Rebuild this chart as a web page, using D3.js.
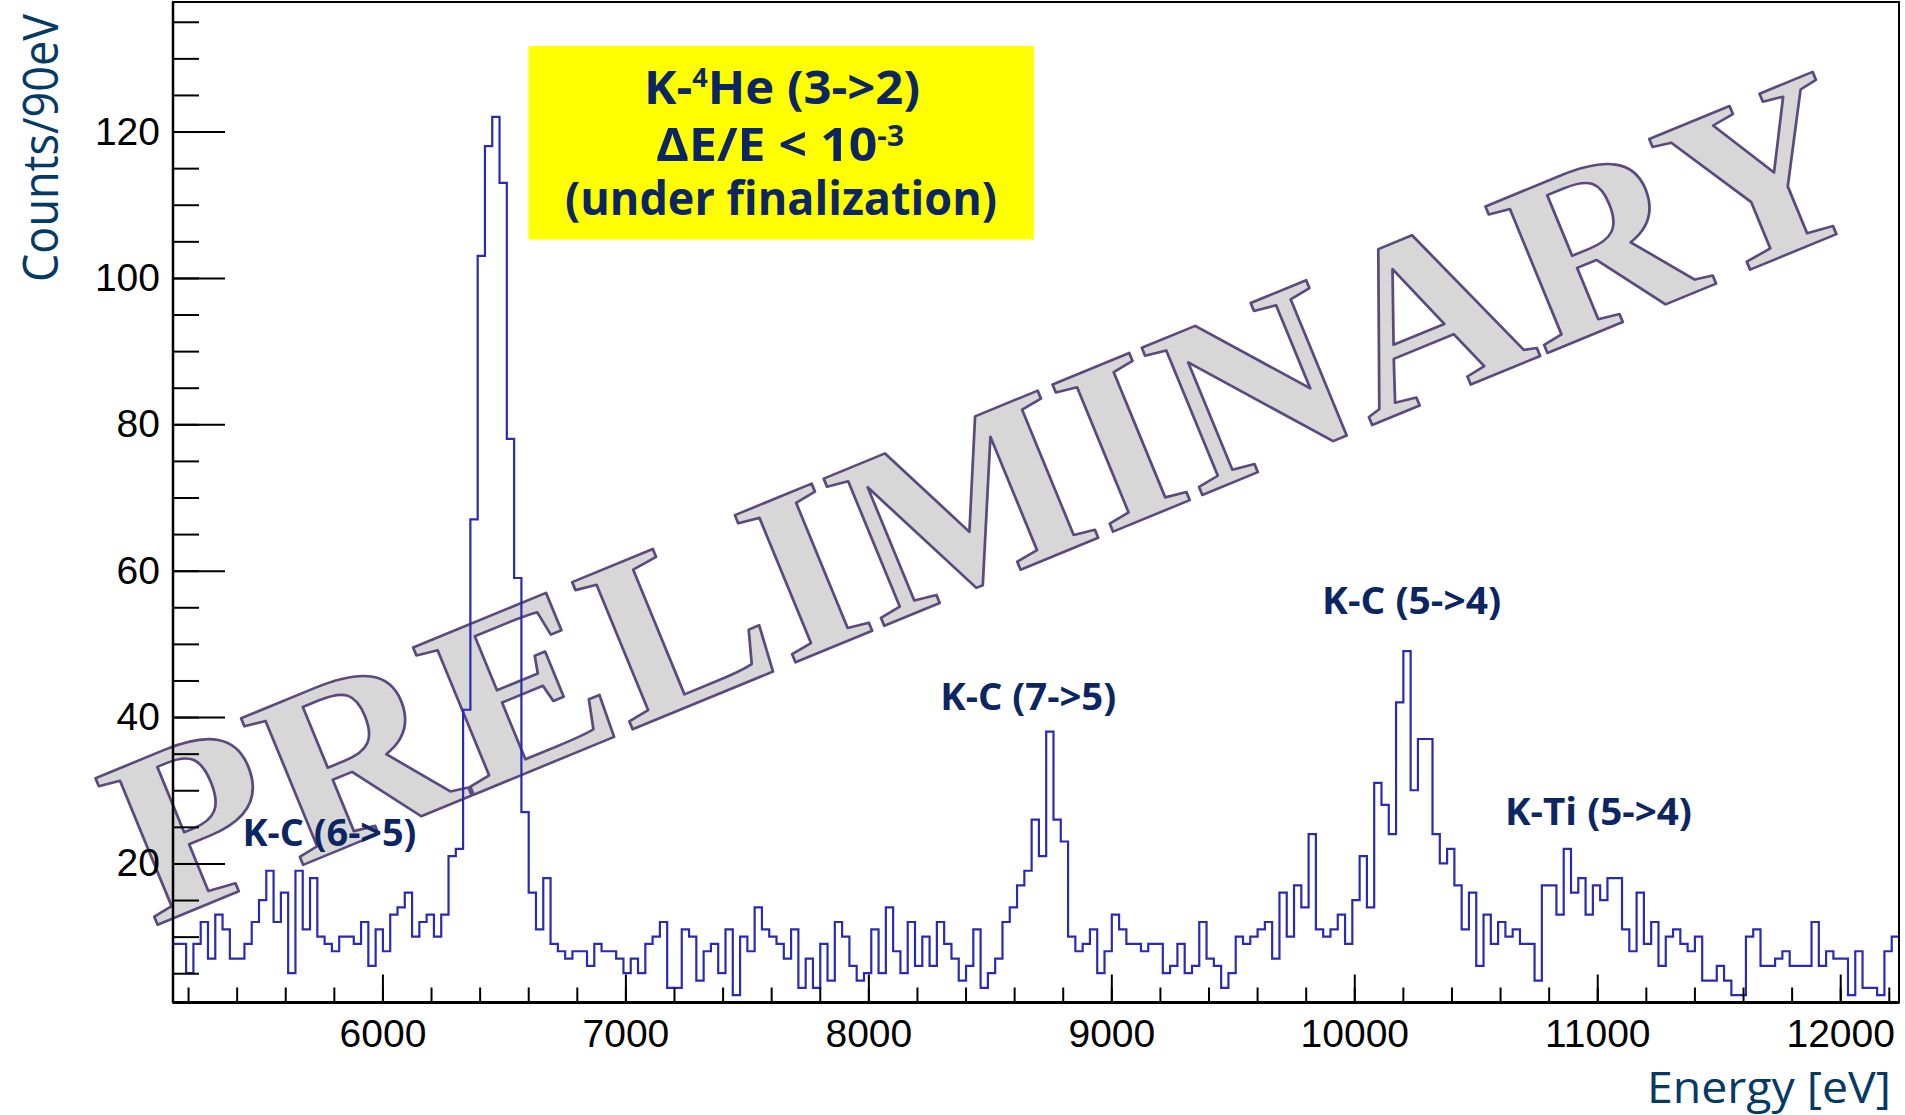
<!DOCTYPE html>
<html><head><meta charset="utf-8">
<script src="https://cdn.jsdelivr.net/npm/d3@7"></script>
<style>html,body{margin:0;padding:0;background:#fff;overflow:hidden}svg{display:block}</style>
</head><body>
<svg id="chart" width="1905" height="1115"></svg>
<script>
// ---------------- data ----------------
const binStart = 5132;   // eV, low edge of first bin
const binWidth = 30;     // eV
const counts = [
  9,9,5,9,12,7,13,11,7,7,
  9,12,15,19,12,16,5,19,11,18,
  10,9,8,10,10,9,12,6,11,8,
  13,14,16,10,12,13,10,13,21,22,
  41,67,103,118,122,113,78,59,27,16,
  11,18,9,8,7,8,8,6,9,8,
  8,7,5,7,5,9,10,12,3,3,
  11,10,4,8,9,5,11,2,10,8,
  14,11,10,9,7,11,3,7,3,9,
  4,12,10,6,4,5,11,5,14,8,
  5,12,6,10,6,12,9,7,4,6,
  11,3,5,7,12,14,17,19,26,21,
  38,26,23,10,8,9,11,5,8,13,
  11,9,9,8,9,9,5,6,9,5,
  6,12,7,6,3,5,10,9,10,11,
  12,7,16,10,17,14,24,11,10,11,
  13,9,15,21,14,31,28,24,42,49,
  30,37,37,24,20,22,17,11,16,6,
  13,9,12,10,11,9,9,4,17,17,
  13,22,16,18,13,17,15,18,18,11,
  8,16,9,12,6,10,11,9,8,10,
  4,4,6,4,2,2,10,11,6,6,
  7,8,6,6,6,12,6,8,7,7,
  2,8,3,3,2,8,10
];
const xDomain = [5138, 12242];
const yDomain = [1, 137.7];
const xTickValues = [6000, 7000, 8000, 9000, 10000, 11000, 12000];
const yTickValues = [20, 40, 60, 80, 100, 120];
const xMinorTicks = d3.range(5200, 12242, 200);
const yMinorTicks = d3.range(5, 137, 5);
const peakLabels = ["K-C (6->5)", "K-C (7->5)", "K-C (5->4)", "K-Ti (5->4)"];
const peakLabelEnergy = [5782, 8658, 10236, 11005];
const peakLabelCount = [22.4, 41.0, 54.1, 25.3];
const xTitle = "Energy [eV]";
const yTitle = "Counts/90eV";

// ---------------- layout ----------------
const L = 173, R = 1899, T = 2, B = 1002.5;
const svg = d3.select("#chart");
svg.append("rect").attr("width",1905).attr("height",1115).attr("fill","#fff");

const x = d3.scaleLinear().domain(xDomain).range([L, R]);
const y = d3.scaleLinear().domain(yDomain).range([B, T]);

svg.append("defs").append("clipPath").attr("id","plotclip")
  .append("rect").attr("x",L).attr("y",T).attr("width",R-L).attr("height",B-T);

// watermark
svg.append("text")
  .attr("transform","translate(152,927) rotate(-22.36)")
  .attr("font-family","'Liberation Serif','DejaVu Serif',serif")
  .attr("font-weight","bold")
  .attr("font-size",243)
  .attr("textLength",1866)
  .attr("lengthAdjust","spacingAndGlyphs")
  .attr("fill","#d7d7d7")
  .attr("stroke","#5b4a7e")
  .attr("stroke-width",2.6)
  .attr("stroke-linejoin","round")
  .text("PRELIMINARY");

// histogram
const pts = counts.map((c,i)=>[binStart + i*binWidth, c]);
pts.push([binStart + counts.length*binWidth, counts[counts.length-1]]);
const line = d3.line().x(d=>x(d[0])).y(d=>y(d[1])).curve(d3.curveStepAfter);
svg.append("path").attr("d", line(pts))
  .attr("clip-path","url(#plotclip)")
  .attr("fill","none").attr("stroke","#2a2ab2").attr("stroke-width",2.2);

// axes
function styleAxis(g){
  g.select(".domain").remove();
  g.selectAll(".tick line").attr("stroke","#000").attr("stroke-width",2);
  g.selectAll(".tick text").attr("fill","#000")
    .attr("font-family","'Liberation Sans',Arial,sans-serif").attr("font-size",39);
}
svg.append("g").attr("transform",`translate(0,${B})`)
  .call(d3.axisBottom(x).tickValues(xMinorTicks).tickSize(-15).tickFormat(""))
  .call(styleAxis);
svg.append("g").attr("transform",`translate(0,${B})`)
  .call(d3.axisBottom(x).tickValues(xTickValues).tickSize(-28).tickSizeOuter(0).tickPadding(17).tickFormat(d3.format("d")))
  .call(styleAxis);
svg.append("g").attr("transform",`translate(${L},0)`)
  .call(d3.axisLeft(y).tickValues(yMinorTicks).tickSize(-26).tickFormat(""))
  .call(styleAxis);
svg.append("g").attr("transform",`translate(${L},0)`)
  .call(d3.axisLeft(y).tickValues(yTickValues).tickSize(-52).tickSizeOuter(0).tickPadding(13).tickFormat(d3.format("d")))
  .call(styleAxis);

// frame
svg.append("rect").attr("x",L).attr("y",T).attr("width",R-L).attr("height",B-T)
  .attr("fill","none").attr("stroke","#000").attr("stroke-width",2);
svg.append("line").attr("x1",L).attr("x2",R).attr("y1",B).attr("y2",B).attr("stroke","#000").attr("stroke-width",3);
svg.append("line").attr("x1",L).attr("x2",L).attr("y1",T).attr("y2",B).attr("stroke","#000").attr("stroke-width",2.5);

// axis titles
svg.append("text").attr("transform","translate(57.5,14) rotate(-90)")
  .attr("text-anchor","end").attr("font-family","'Open Sans',sans-serif")
  .attr("font-size",49).attr("textLength",268).attr("lengthAdjust","spacingAndGlyphs")
  .attr("fill","#053a66").text(yTitle);
svg.append("text").attr("x",1891).attr("y",1103)
  .attr("text-anchor","end").attr("font-family","'Open Sans',sans-serif")
  .attr("font-size",44).attr("textLength",244).attr("lengthAdjust","spacingAndGlyphs")
  .attr("fill","#053a66").text(xTitle);

// peak labels
const labelWidths = [174, 176, 179, 187];
peakLabels.forEach((t,i)=>{
  svg.append("text")
    .attr("x", x(peakLabelEnergy[i]) - labelWidths[i]/2)
    .attr("y", y(peakLabelCount[i]))
    .attr("font-family","'Open Sans',sans-serif").attr("font-weight","bold")
    .attr("font-size",38).attr("textLength",labelWidths[i]).attr("lengthAdjust","spacingAndGlyphs")
    .attr("fill","#0c2563").text(t);
});

// yellow box
svg.append("rect").attr("x",528.5).attr("y",46).attr("width",505.5).attr("height",193.5).attr("fill","#ffff00");
const bx = svg.append("g").attr("font-family","'Open Sans',sans-serif").attr("font-weight","bold").attr("fill","#0c2563");
const l1 = bx.append("text").attr("x",644).attr("y",104).attr("font-size",47)
  .attr("textLength",276).attr("lengthAdjust","spacingAndGlyphs");
l1.append("tspan").text("K-");
l1.append("tspan").attr("dy",-17).attr("font-size",26).text("4");
l1.append("tspan").attr("dy",17).text("He (3->2)");
const l2 = bx.append("text").attr("x",656).attr("y",160.7).attr("font-size",47)
  .attr("textLength",248).attr("lengthAdjust","spacingAndGlyphs");
l2.append("tspan").text("ΔE/E < 10");
l2.append("tspan").attr("dy",-15).attr("font-size",28).text("-3");
bx.append("text").attr("x",781).attr("y",215).attr("text-anchor","middle").attr("font-size",47)
  .attr("textLength",432).attr("lengthAdjust","spacingAndGlyphs").text("(under finalization)");
</script>
</body></html>
